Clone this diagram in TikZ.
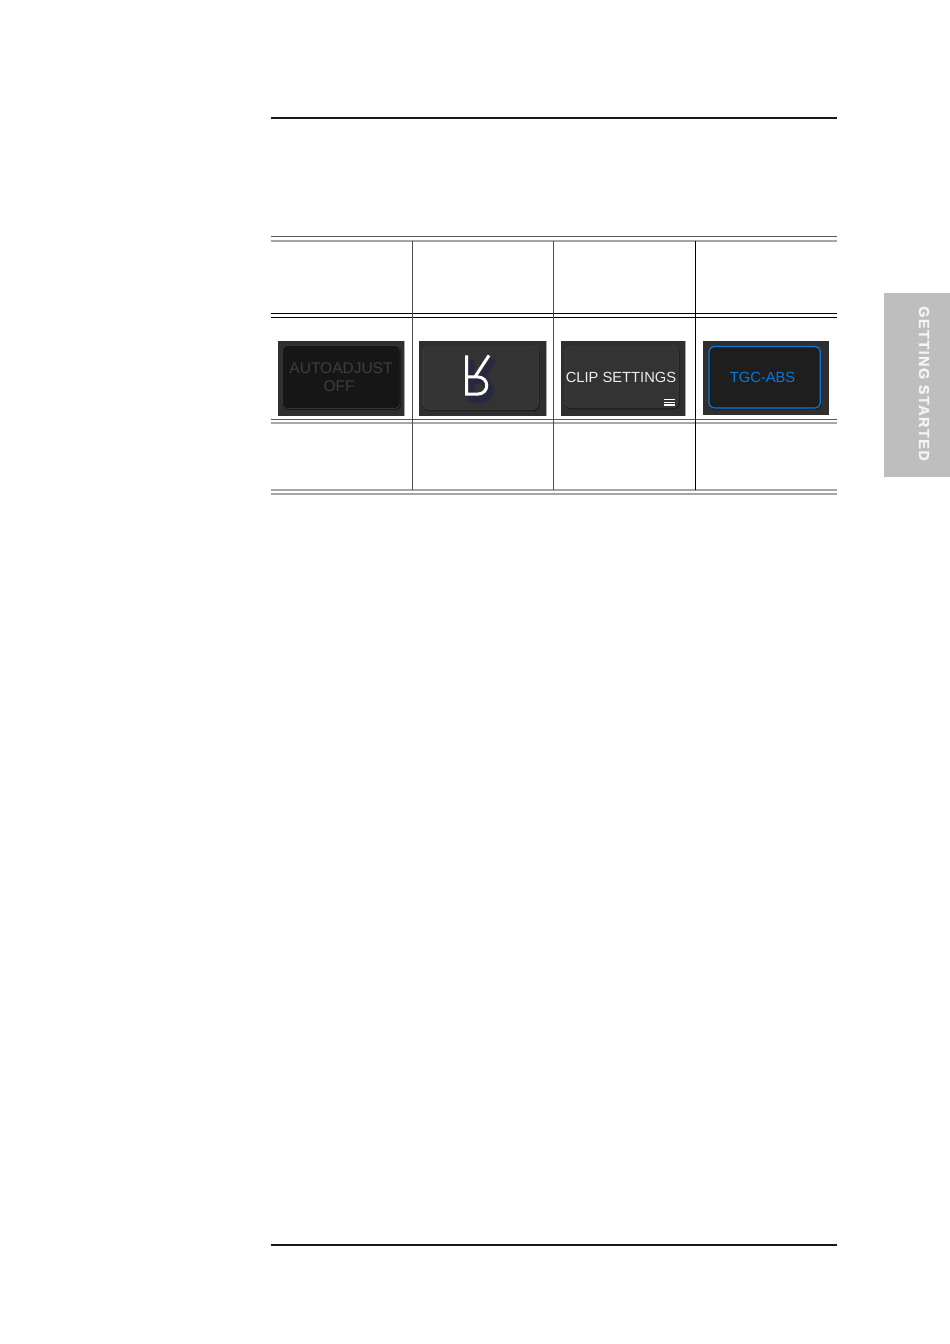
\documentclass[tikz,border=0pt]{standalone}
\usepackage{fontspec}
\setmainfont{Liberation Sans}
\newfontfamily\tabfont[LetterSpace=10.5,FakeBold=1.2]{Liberation Sans Bold}
\usepackage{tikz}
\definecolor{panelgray}{HTML}{2F2F2F}
\definecolor{buttongray}{HTML}{333333}
\definecolor{buttondark}{HTML}{161616}
\definecolor{buttonblack}{HTML}{1E1E1E}
\definecolor{edgegray}{HTML}{A8A8A8}
\definecolor{tabgray}{HTML}{BEBEBE}
\definecolor{tgcblue}{HTML}{0A78D8}
\definecolor{offgray}{HTML}{3E3E3E}
\definecolor{iconshadow}{HTML}{1E1C50}
\tikzset{
  x=1pt,y=-1pt,
  pagerule/.style={black!90,line width=2pt},
  blackrule/.style={black,line width=1.3pt},
  darkrule/.style={black!65,line width=1.4pt},
  lightrule/.style={black!35,line width=2pt},
  cellrule/.style={black!70,line width=1.2pt},
  panel/.style={fill=panelgray,draw=none},
  buttonshadow/.style={fill=black!90,draw=none,rounded corners=5pt},
  buttonoutline/.style={panelgray!90!white,line width=0.4pt,rounded corners=5pt},
  buttonlabel/.style={font=\fontsize{14.7}{16}\selectfont,inner sep=0pt,anchor=center},
}
\begin{document}
\begin{tikzpicture}
\useasboundingbox (0,0) rectangle (950,1344);
\fill[white] (0,0) rectangle (950,1344);

\draw[pagerule] (270.5,117.5) -- (837,117.5);
\draw[pagerule] (270.5,1245) -- (837,1245);

\fill[tabgray] (883.5,293) rectangle (950,477);
\node[rotate=-90,text=white!96!black,inner sep=0pt,font=\tabfont\fontsize{14.4}{16}\selectfont] (tabtitle) at (924,383.5) {GETTING STARTED};

\draw[darkrule] (270.5,236.7) -- (837,236.7);
\draw[lightrule] (270.5,240.7) -- (837,240.7);
\draw[blackrule] (270.5,313.3) -- (837,313.3);
\draw[blackrule] (270.5,317.3) -- (837,317.3);
\draw[darkrule] (270.5,419.3) -- (837,419.3);
\draw[lightrule] (270.5,423.3) -- (837,423.3);
\draw[lightrule] (270.5,490) -- (837,490);
\draw[lightrule] (270.5,494) -- (837,494);

\draw[cellrule] (412.3,241) -- (412.3,489.5);
\draw[cellrule] (553.7,241) -- (553.7,489.5);
\draw[black,line width=1.2pt] (695.3,241) -- (695.3,489.5);

\fill[edgegray] (277.7,341) rectangle (405,415.7);
\fill[panel] (277.7,341) rectangle (404.2,415.7);
\fill[buttonshadow] (282.3,346) rectangle (401.2,410);
\fill[buttondark,rounded corners=5pt] (282.3,345.3) rectangle (400,408.6);
\draw[buttonoutline] (282.3,345.3) rectangle (400,408.6);
\node[buttonlabel,text=offgray,font=\fontsize{15.5}{17}\selectfont] (autoadjust) at (341,368.5) {AUTOADJUST};
\node[buttonlabel,text=offgray,font=\fontsize{15.5}{17}\selectfont] (autooff) at (339,386.5) {OFF};

\fill[edgegray] (419.3,341) rectangle (547,415.7);
\fill[panel] (419.3,341) rectangle (546.2,415.7);
\fill[buttonshadow] (423.3,347) rectangle (539.5,411.2);
\fill[buttongray,rounded corners=5pt] (423.3,346) rectangle (538.3,409.8);
\draw[buttonoutline] (423.3,346) rectangle (538.3,409.8);
\draw[iconshadow,opacity=0.2,line width=9pt,line join=round] (471,360) -- (471,399.5) -- (481,399.5) .. controls (493,399.5) and (493,381) .. (481,381) -- (471,381) (479,381) -- (492.5,360);
\draw[iconshadow,opacity=0.35,line width=5.5pt,line join=round] (471,360) -- (471,399.5) -- (481,399.5) .. controls (493,399.5) and (493,381) .. (481,381) -- (471,381) (479,381) -- (492.5,360);
\draw[white,line width=3pt,line join=miter] (466.6,355.4) -- (466.6,394.2) -- (477,394.2) .. controls (490,394.2) and (490,376.8) .. (477,376.8) -- (466.6,376.8) (475,376.8) -- (489,355.4);

\fill[edgegray] (561.3,341) rectangle (685.9,415.7);
\fill[panel] (561.3,341) rectangle (684.8,415.7);
\fill[buttonshadow] (565.3,347) rectangle (679.5,409.3);
\fill[buttongray,rounded corners=5pt] (565.3,346) rectangle (678.3,408);
\draw[buttonoutline] (565.3,346) rectangle (678.3,408);
\node[buttonlabel,text=white!93!black] (clipsettings) at (621,377) {CLIP SETTINGS};
\draw[white,line width=1.3pt] (664.3,399.4) -- (675,399.4);
\draw[white,line width=1.3pt] (664.3,402.2) -- (675,402.2);
\draw[white,line width=1.3pt] (664.3,405) -- (675,405);

\fill[panel] (703,341) rectangle (829,415);
\fill[buttonshadow] (709,347) rectangle (821.5,409.5);
\draw[tgcblue,fill=buttonblack,line width=1.2pt,rounded corners=5pt] (709,346.5) rectangle (820.3,408);
\node[buttonlabel,text=tgcblue] (tgcabs) at (762.5,377) {TGC-ABS};

\end{tikzpicture}
\end{document}
